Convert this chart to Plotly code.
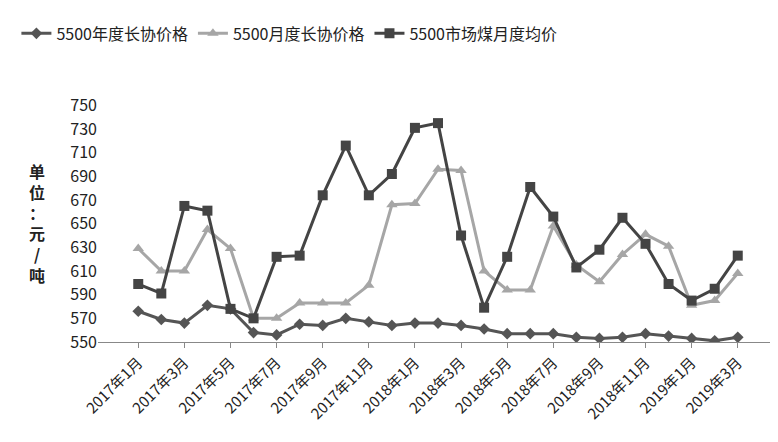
import plotly.graph_objects as go

months = [f"{y}年{m}月" for y, ms in [(2017, range(1, 13)), (2018, range(1, 13)), (2019, range(1, 4))] for m in ms]
annual = [576, 569, 566, 581, 578, 558, 556, 565, 564, 570, 567, 564, 566, 566, 564, 561, 557, 557, 557, 554, 553, 554, 557, 555, 553, 551, 554]
monthly = [629, 610, 610, 645, 629, 570, 570, 583, 583, 583, 598, 666, 667, 696, 695, 610, 594, 594, 648, 615, 601, 624, 641, 631, 581, 585, 608]
market = [599, 591, 665, 661, 578, 570, 622, 623, 674, 716, 674, 692, 731, 735, 640, 579, 622, 681, 656, 613, 628, 655, 633, 599, 585, 595, 623]
yticks = list(range(550, 751, 20))

font = "Noto Sans CJK SC"
fig = go.Figure()
fig.add_trace(go.Scatter(x=months, y=annual, name="5500年度长协价格", mode="lines+markers",
                         line=dict(color="#555555", width=3), marker=dict(symbol="diamond", size=9, color="#555555")))
fig.add_trace(go.Scatter(x=months, y=monthly, name="5500月度长协价格", mode="lines+markers",
                         line=dict(color="#a6a6a6", width=3), marker=dict(symbol="triangle-up", size=10, color="#a6a6a6")))
fig.add_trace(go.Scatter(x=months, y=market, name="5500市场煤月度均价", mode="lines+markers",
                         line=dict(color="#444444", width=3), marker=dict(symbol="square", size=10, color="#444444")))
fig.update_layout(
    width=778, height=442, plot_bgcolor="white", paper_bgcolor="white",
    font=dict(family=font, size=15, color="#222222"),
    margin=dict(l=86, r=8, t=52, b=108),
    legend=dict(orientation="h", x=-0.12, y=1.22, xanchor="left", yanchor="bottom", font=dict(size=16)),
    annotations=[dict(text="<b>单<br>位<br>：<br>元<br>/<br>吨</b>", x=-0.105, y=0.5, xref="paper", yref="paper",
                      showarrow=False, font=dict(size=16, family=font, color="#222222"))],
)
fig.update_xaxes(tickmode="array", tickvals=months[::2], ticktext=months[::2], tickangle=-45,
                 showline=True, linecolor="#888888", ticks="outside", tickcolor="#888888", showgrid=False,
                 tickfont=dict(size=15))
fig.update_yaxes(range=[550, 752], tickvals=yticks, showgrid=False, showline=False, zeroline=False,
                 tickfont=dict(size=16))
fig.write_html("out.html")
